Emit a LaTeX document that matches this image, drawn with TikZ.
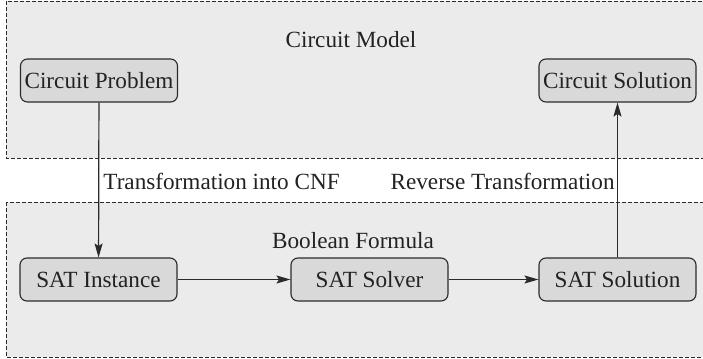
\documentclass[tikz,border=0pt]{standalone}
\usepackage{fontspec}
\setmainfont{Liberation Serif}
\newfontfamily\diagfont{Liberation Serif}
\usetikzlibrary{arrows.meta}
\definecolor{regionfill}{HTML}{EBEBEB}
\definecolor{nodefill}{HTML}{D9D9D9}
\definecolor{edgecol}{HTML}{2A2A2A}
\definecolor{textcol}{HTML}{222222}
\tikzset{
  region/.style={draw=edgecol, fill=regionfill, line width=0.5pt, dash pattern=on 1.8pt off 1.2pt},
  procbox/.style={draw=edgecol, fill=nodefill, line width=0.55pt, rounded corners=3.5pt, text=textcol,
    minimum width=78.5pt, minimum height=21.5pt, inner sep=0pt, font=\diagfont\fontsize{11.6}{14}\selectfont},
  lbl/.style={font=\diagfont\fontsize{11.6}{14}\selectfont, inner sep=0pt, text=textcol},
  conn/.style={draw=edgecol, line width=0.6pt, -{Stealth[length=7pt,width=4pt,inset=1.3pt]}}
}
\begin{document}
\begin{tikzpicture}[x=0.5pt,y=-0.5pt]
\useasboundingbox (0,0) rectangle (703,359);
\path[region] (6,1) rectangle (710,158);
\path[region] (6,202) rectangle (710,357);
\node[lbl] (cm) at (351,40) {Circuit Model};
\node[lbl] (bf) at (353,241) {Boolean Formula};
\node[procbox] (cp) at (99,80.5) {Circuit Problem};
\node[procbox] (cs) at (617.5,80.5) {Circuit Solution};
\node[procbox] (si) at (98.5,279.5) {SAT Instance};
\node[procbox] (ss) at (369.5,279.5) {SAT Solver};
\node[procbox] (so) at (617.5,279.5) {SAT Solution};
\draw[conn] (cp) -- (si);
\draw[conn] (si) -- (ss);
\draw[conn] (ss) -- (so);
\draw[conn] (so) -- (cs);
\node[lbl, anchor=west] (t1) at (103,181) {Transformation into CNF};
\node[lbl, anchor=east] (t2) at (615,181) {Reverse Transformation};
\end{tikzpicture}
\end{document}
